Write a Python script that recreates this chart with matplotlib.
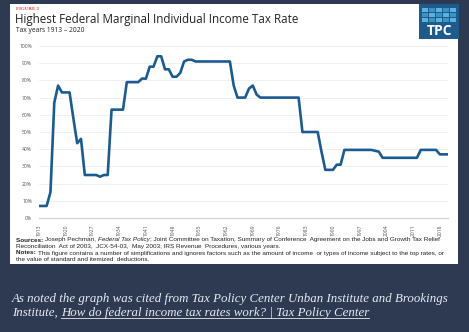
import matplotlib
matplotlib.use("Agg")
import matplotlib.pyplot as plt
from matplotlib.patches import Rectangle
import matplotlib.lines as mlines

years = list(range(1913, 2021))
rates = [7, 7, 7, 15, 67, 77, 73, 73, 73, 58,
         43.5, 46, 25, 25, 25, 25, 24, 25, 25, 63,
         63, 63, 63, 79, 79, 79, 79, 81.1, 81, 88,
         88, 94, 94, 86.45, 86.45, 82.13, 82.13, 84.36, 91, 92,
         92, 91, 91, 91, 91, 91, 91, 91, 91, 91,
         91, 77, 70, 70, 70, 75.25, 77, 71.75, 70, 70,
         70, 70, 70, 70, 70, 70, 70, 70, 70, 50,
         50, 50, 50, 50, 38.5, 28, 28, 28, 31, 31,
         39.6, 39.6, 39.6, 39.6, 39.6, 39.6, 39.6, 39.6, 39.1, 38.6,
         35, 35, 35, 35, 35, 35, 35, 35, 35, 35,
         39.6, 39.6, 39.6, 39.6, 39.6, 37, 37, 37]
x_ticks = list(range(1913, 2019, 7))
y_ticks = list(range(0, 101, 10))

W, H = 469, 332
fig = plt.figure(figsize=(W / 100, H / 100), dpi=100)
fig.patch.set_facecolor("#2e3a52")

# white panel
fig.patches.append(Rectangle((10 / W, 1 - 264 / H), 448 / W, 260 / H,
                             transform=fig.transFigure, facecolor="white",
                             edgecolor="none", zorder=-5))

# TPC logo
fig.patches.append(Rectangle((419 / W, 1 - 39 / H), 40 / W, 35 / H, transform=fig.transFigure,
                             facecolor="#1d5b8c", edgecolor="none", zorder=1))
for r in range(3):
    for c in range(5):
        col = "#5ab3da" if (r + c) % 2 == 0 else "#3a93c4"
        fig.patches.append(Rectangle(((422 + c * 7.0) / W, 1 - (12 + r * 5.0) / H),
                                     6.0 / W, 4.2 / H, transform=fig.transFigure,
                                     facecolor=col, edgecolor="none", zorder=2))
fig.text(439 / W, 1 - 31 / H, "TPC", color="white", fontsize=10,
         fontweight="bold", family="Open Sans", ha="center", va="center", zorder=3)

fig.text(16 / W, 1 - 9 / H, "FIGURE 2", color="#e0463f", fontsize=3.6,
         family="Liberation Serif", fontweight="bold", va="center")
fig.text(15 / W, 1 - 20 / H, "Highest Federal Marginal Individual Income Tax Rate",
         color="#222222", fontsize=8.4, family="Open Sans", va="center")
fig.text(16 / W, 1 - 30 / H, "Tax years 1913 \u2013 2020", color="#222222",
         fontsize=4.8, family="Open Sans", va="center")

ax = fig.add_axes([39 / W, 1 - 218 / H, 408.5 / W, 172 / H])
ax.set_facecolor("none")
ax.plot(years, rates, color="#1b5b93", linewidth=1.9, solid_joinstyle="round", zorder=3)
ax.set_xlim(1913, 2020)
ax.set_ylim(0, 100)
ax.set_yticks(y_ticks)
ax.set_yticklabels([f"{v}%" for v in y_ticks])
ax.set_xticks(x_ticks)
ax.set_xticklabels([str(v) for v in x_ticks], rotation=90)
ax.tick_params(axis="both", length=0, labelsize=3.6, labelcolor="#555555", pad=5)
for lab in ax.get_xticklabels() + ax.get_yticklabels():
    lab.set_family("Open Sans")
ax.grid(axis="y", color="#eeeeee", linewidth=0.6)
ax.set_axisbelow(True)
for s in ["top", "right", "left"]:
    ax.spines[s].set_visible(False)
ax.spines["bottom"].set_color("#cfcfcf")
ax.spines["bottom"].set_linewidth(0.8)

fs = 4.6
fam = "Liberation Sans"
t1 = fig.text(16 / W, 1 - 240 / H, "Sources: ", fontsize=fs, fontweight="bold",
              family=fam, color="#222222", va="center")
a = fig.text(0, 0, "Joseph Pechman, ", fontsize=fs, family=fam, color="#222222")
b = fig.text(0, 0, "Federal Tax Policy", fontsize=fs, family=fam, style="italic", color="#222222")
c = fig.text(0, 0, "; Joint Committee on Taxation, Summary of Conference  Agreement on the Jobs and Growth Tax Relief",
             fontsize=fs, family=fam, color="#222222")
fig.text(16 / W, 1 - 246.5 / H,
         "Reconciliation  Act of 2003,  JCX-54-03,  May 2003; IRS Revenue  Procedures, various years.",
         fontsize=fs, family=fam, color="#222222", va="center")
n1 = fig.text(16 / W, 1 - 253 / H, "Notes: ", fontsize=fs, fontweight="bold",
              family=fam, color="#222222", va="center")
n2 = fig.text(0, 0, "This figure contains a number of simplifications and ignores factors such as the amount of income  or types of income subject to the top rates, or",
              fontsize=fs, family=fam, color="#222222")
fig.text(16 / W, 1 - 259.5 / H, "the value of standard and itemized  deductions.",
         fontsize=fs, family=fam, color="#222222", va="center")

cap_fs = 9.3
c1 = fig.text(12 / W, 1 - 299 / H,
              "As noted the graph was cited from Tax Policy Center Unban Institute and Brookings",
              fontsize=cap_fs, family="Liberation Serif", style="italic",
              color="#e8ebf0", va="center")
c2 = fig.text(12 / W, 1 - 313 / H, "Institute, ", fontsize=cap_fs,
              family="Liberation Serif", style="italic", color="#e8ebf0", va="center")
c3 = fig.text(0, 0, "How do federal income tax rates work? | Tax Policy Center",
              fontsize=cap_fs, family="Liberation Serif", style="italic", color="#e8ebf0")

fig.canvas.draw()
r = fig.canvas.get_renderer()


def chain(prev, nxt):
    bb = prev.get_window_extent(r)
    px, py = prev.get_position()
    nxt.set_position((bb.x1 / W, py))
    nxt.set_va(prev.get_va())
    nxt.set_ha("left")


chain(t1, a)
chain(a, b)
chain(b, c)
chain(n1, n2)
chain(c2, c3)
fig.canvas.draw()
bb = c3.get_window_extent(r)
fig.add_artist(mlines.Line2D([bb.x0 / W, bb.x1 / W], [(bb.y0 + 1.5) / H] * 2,
                             transform=fig.transFigure, color="#e8ebf0", linewidth=0.6))

fig.savefig("out.png", dpi=100, facecolor=fig.get_facecolor())
